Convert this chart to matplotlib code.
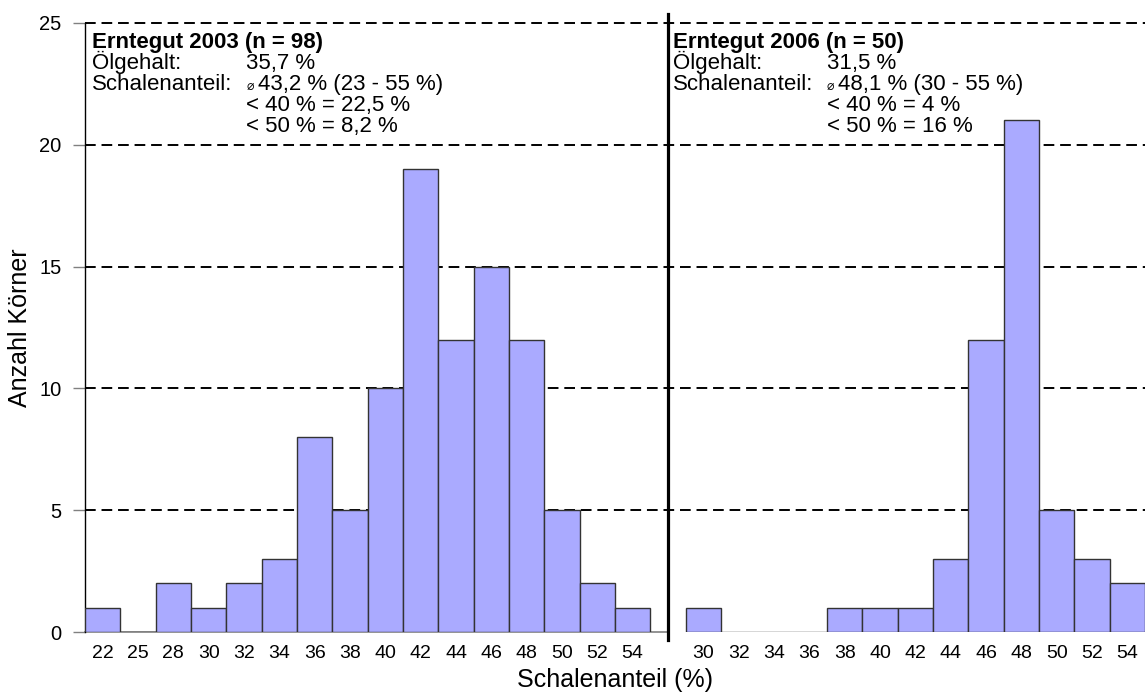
"""Schalenanteil histogram, Erntegut 2003 vs 2006."""

import matplotlib

matplotlib.use("Agg")
import matplotlib.pyplot as plt
import numpy as np

plt.rcParams["font.family"] = ["Liberation Sans", "DejaVu Sans"]

# data
left_labels = ["22", "25", "28", "30", "32", "34", "36", "38",
               "40", "42", "44", "46", "48", "50", "52", "54"]
left_counts = [1, 0, 2, 1, 2, 3, 8, 5, 10, 19, 12, 15, 12, 5, 2, 1]

right_labels = ["30", "32", "34", "36", "38", "40", "42",
                "44", "46", "48", "50", "52", "54"]
right_counts = [1, 0, 0, 0, 1, 1, 1, 3, 12, 21, 5, 3, 2]

y_ticks = [0, 5, 10, 15, 20, 25]

left_title = "Erntegut 2003 (n = 98)"
left_info = [("Ölgehalt:", "35,7 %"),
             ("Schalenanteil:", "43,2 % (23 - 55 %)"),
             ("", "< 40 % = 22,5 %"),
             ("", "< 50 % = 8,2 %")]
right_title = "Erntegut 2006 (n = 50)"
right_info = [("Ölgehalt:", "31,5 %"),
              ("Schalenanteil:", "48,1 % (30 - 55 %)"),
              ("", "< 40 % = 4 %"),
              ("", "< 50 % = 16 %")]

BAR_COLOR = "#aaaaff"
EDGE_COLOR = "#333333"
FS_TICK = 14
FS_LABEL = 18
FS_TEXT = 16

left_pos = np.arange(len(left_labels))
divider = len(left_labels)
right_pos = np.arange(len(right_labels)) + divider + 1

fig = plt.figure(figsize=(11.45, 6.97), dpi=100)
ax = fig.add_axes([85 / 1145, 1 - 632 / 697, 1 - 85 / 1145, (632 - 23) / 697])

ax.set_axisbelow(True)
ax.bar(left_pos, left_counts, width=1.0, color=BAR_COLOR,
       edgecolor=EDGE_COLOR, linewidth=1.0, zorder=3)
ax.bar(right_pos, right_counts, width=1.0, color=BAR_COLOR,
       edgecolor=EDGE_COLOR, linewidth=1.0, zorder=3)

ax.set_xlim(-0.5, right_pos[-1] + 0.5)
ax.set_ylim(0, 25)

# dashed grid
for yv in y_ticks[1:]:
    ax.axhline(yv, color="black", lw=1.4, ls=(0, (5.5, 3)), zorder=1,
               clip_on=False)

# baseline only under the left panel
ax.plot([-0.5, divider], [0, 0], color="#808080", lw=1.2, zorder=2,
        clip_on=False)

# divider between the two years
ax.axvline(divider, ymin=-0.013, ymax=1.015, color="black", lw=2.3,
           clip_on=False, zorder=5)

for side in ["top", "right", "bottom"]:
    ax.spines[side].set_visible(False)
ax.spines["left"].set_color("black")
ax.spines["left"].set_linewidth(1.0)

ax.set_yticks(y_ticks)
ax.tick_params(axis="y", length=9, width=1.0, color="#808080",
               labelsize=FS_TICK + 0.5, pad=8)
ax.set_xticks(list(left_pos) + list(right_pos))
ax.set_xticklabels(left_labels + right_labels)
ax.tick_params(axis="x", length=0, labelsize=FS_TICK, pad=9)

ax.set_xlabel("Schalenanteil (%)", fontsize=FS_LABEL, labelpad=5)
ax.set_ylabel("Anzahl Körner", fontsize=FS_LABEL, labelpad=5)


def add_block(x_label, x_value, title, info):
    y0, step = 23.97, 0.862
    ax.text(x_label, y0, title, fontsize=FS_TEXT, fontweight="bold",
            va="baseline", zorder=6)
    for i, (lab, val) in enumerate(info, start=1):
        y = y0 - i * step
        if lab:
            ax.text(x_label, y, lab, fontsize=FS_TEXT, va="baseline", zorder=6)
        if lab == "Schalenanteil:":
            ax.text(x_value, y, "⌀", fontsize=9, family=["DejaVu Sans"],
                    va="baseline", zorder=6)
            ax.annotate(val, (x_value, y), xytext=(8.5, 0),
                        textcoords="offset points", fontsize=FS_TEXT,
                        va="baseline", zorder=6)
        else:
            ax.text(x_value, y, val, fontsize=FS_TEXT, va="baseline", zorder=6)


add_block(-0.30, 4.06, left_title, left_info)
add_block(16.13, 20.49, right_title, right_info)

fig.savefig("out.png", dpi=100)
